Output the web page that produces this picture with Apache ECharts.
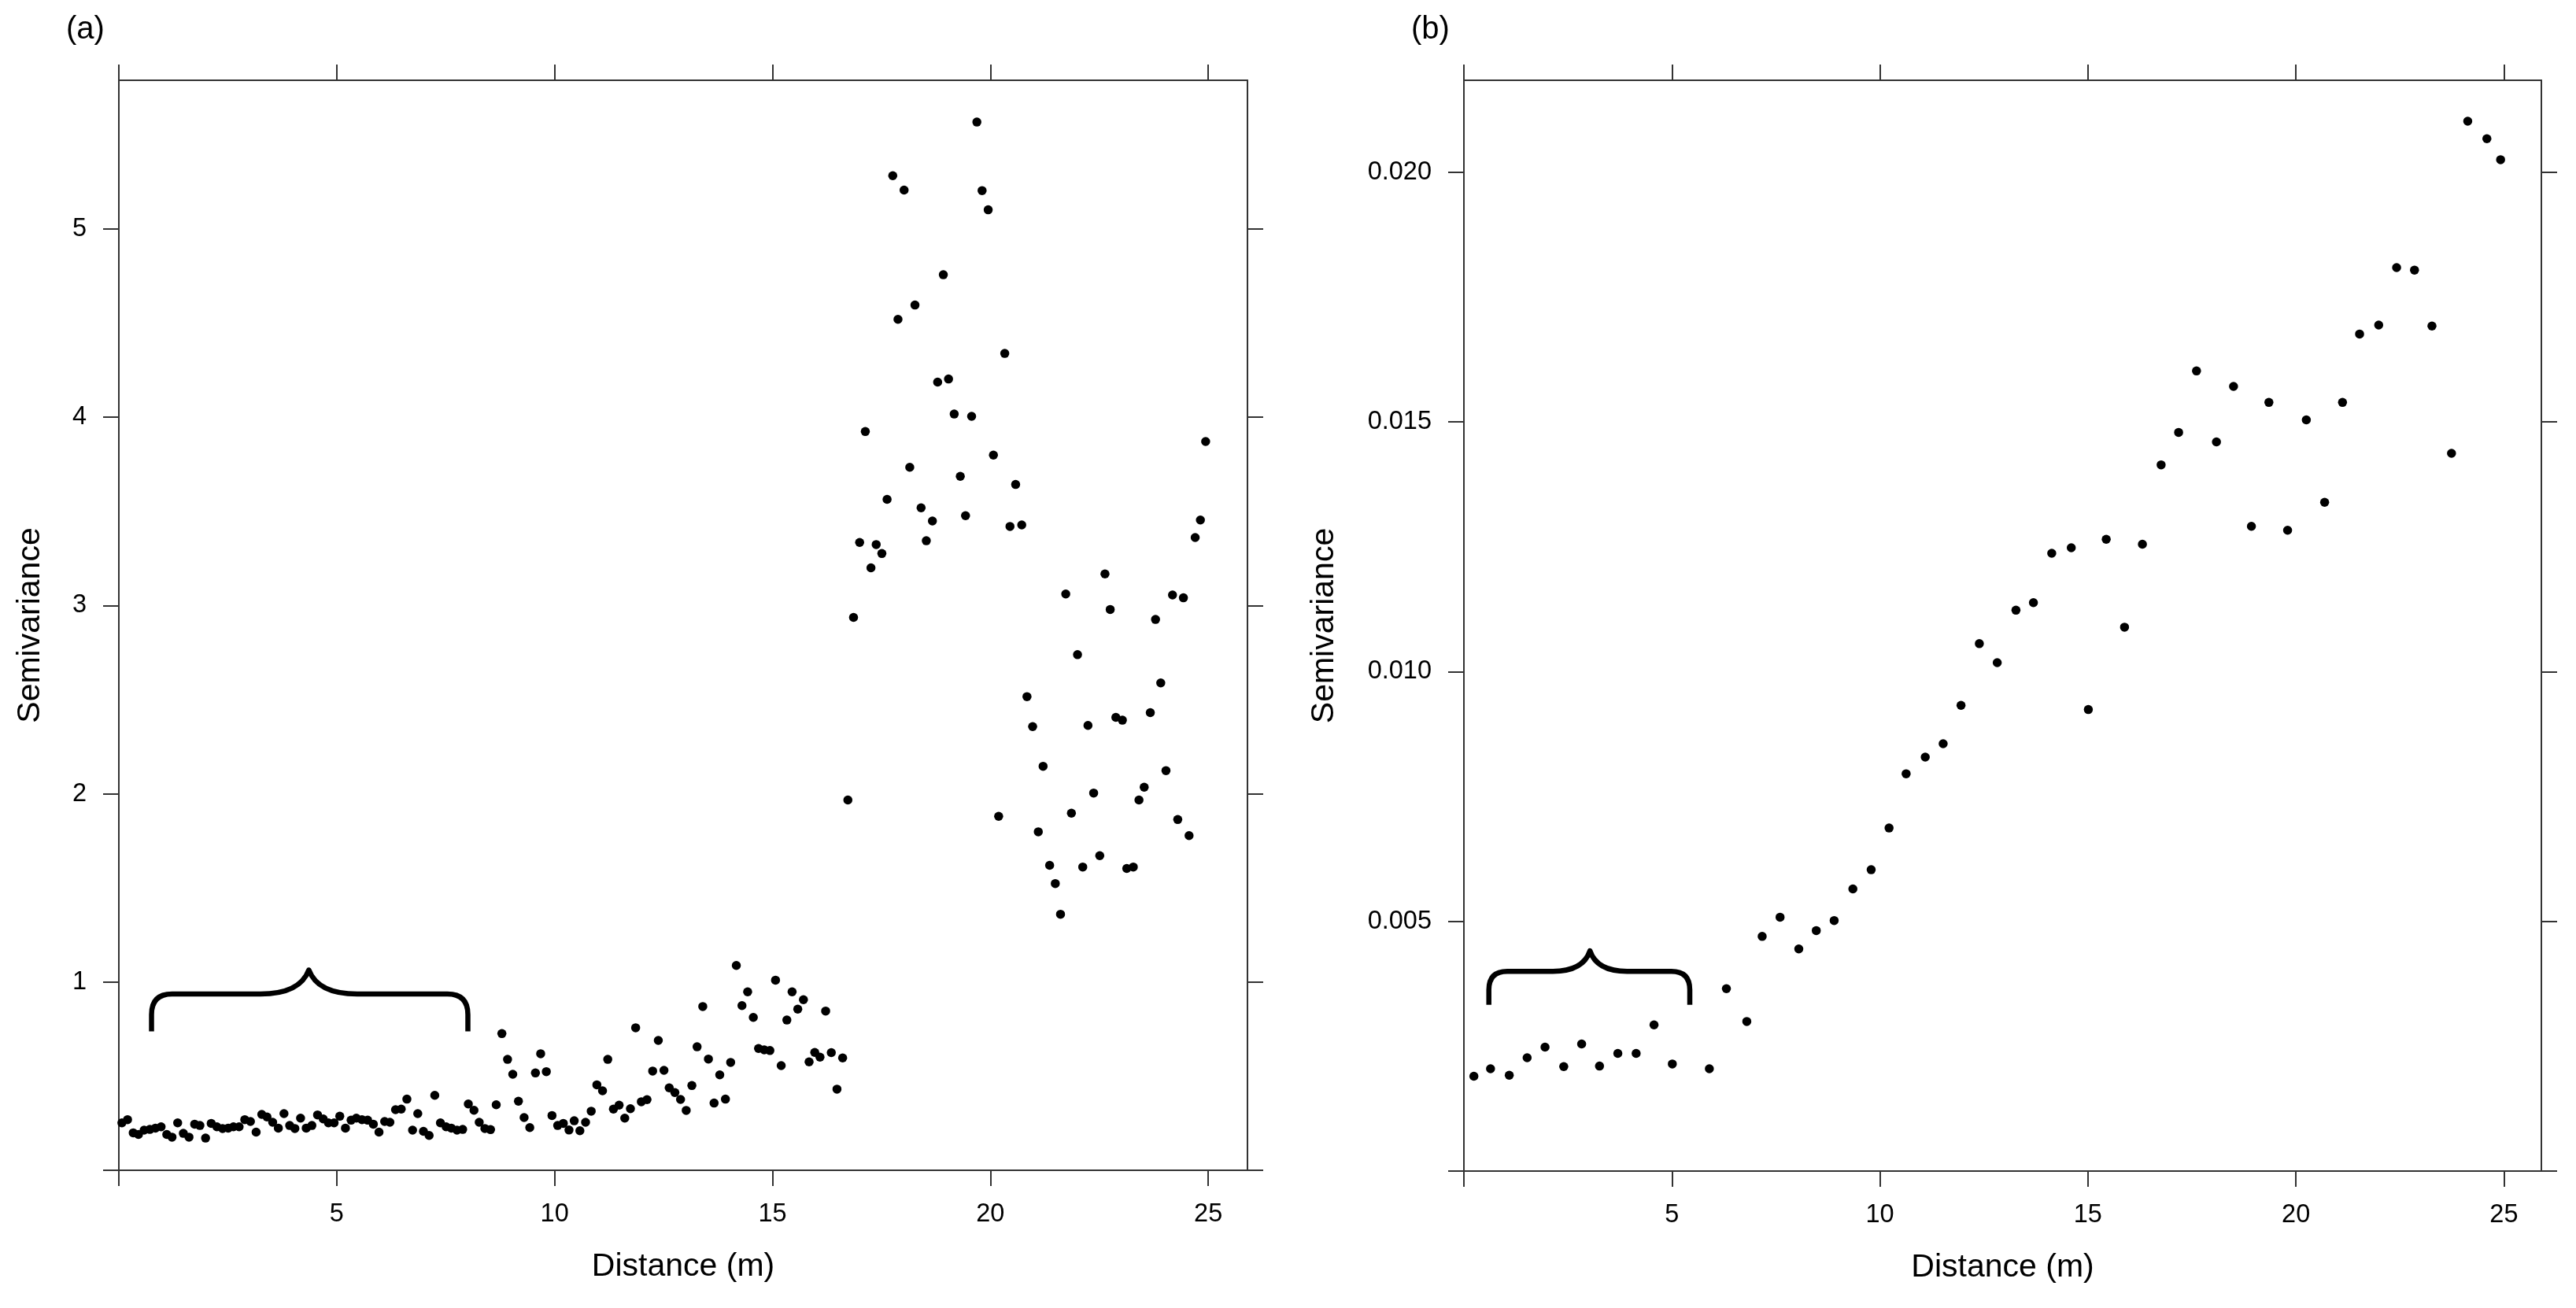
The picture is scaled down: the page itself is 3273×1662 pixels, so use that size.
<!DOCTYPE html>
<html><head><meta charset="utf-8">
<script src="https://cdn.jsdelivr.net/npm/echarts@6/dist/echarts.min.js"></script>
<style>html,body{margin:0;padding:0;background:#fff}#c{width:3273px;height:1662px}</style>
</head><body><div id="c"></div>
<script>
// ---- Panel (a) data ----
const distA = [
0.07,0.20,0.33,0.45,0.58,0.71,0.84,0.97,1.10,1.22,
1.35,1.48,1.61,1.74,1.86,1.99,2.12,2.25,2.38,2.51,
2.63,2.76,2.89,3.02,3.15,3.28,3.40,3.53,3.66,3.79,
3.92,4.04,4.17,4.30,4.43,4.56,4.69,4.81,4.94,5.07,
5.20,5.33,5.45,5.58,5.71,5.84,5.97,6.10,6.22,6.35,
6.48,6.61,6.74,6.86,6.99,7.12,7.25,7.38,7.51,7.63,
7.76,7.89,8.02,8.15,8.27,8.40,8.53,8.66,8.79,8.92,
9.04,9.17,9.30,9.43,9.56,9.68,9.81,9.94,10.07,10.20,
10.33,10.45,10.58,10.71,10.84,10.97,11.10,11.22,11.35,11.48,
11.61,11.74,11.86,11.99,12.12,12.25,12.38,12.51,12.63,12.76,
12.89,13.02,13.15,13.27,13.40,13.53,13.66,13.79,13.92,14.04,
14.17,14.30,14.43,14.56,14.68,14.81,14.94,15.07,15.20,15.33,
15.45,15.58,15.71,15.84,15.97,16.09,16.22,16.35,16.48,16.61,
16.73,16.86,17.00,17.13,17.26,17.38,17.51,17.63,17.76,17.88,
18.02,18.15,18.27,18.41,18.53,18.67,18.79,18.92,19.04,19.17,
19.31,19.43,19.57,19.69,19.81,19.95,20.07,20.19,20.33,20.45,
20.58,20.72,20.84,20.97,21.10,21.21,21.36,21.49,21.61,21.73,
21.86,22.00,22.12,22.24,22.37,22.51,22.63,22.75,22.88,23.03,
23.13,23.28,23.41,23.53,23.67,23.79,23.91,24.03,24.18,24.30,
24.43,24.56,24.70,24.82,24.94
];
const semivarA = [
0.252,0.269,0.199,0.190,0.213,0.217,0.224,0.231,0.190,0.176,
0.252,0.196,0.176,0.245,0.238,0.171,0.249,0.231,0.222,0.224,
0.231,0.231,0.269,0.259,0.203,0.297,0.283,0.255,0.224,0.301,
0.238,0.222,0.277,0.224,0.238,0.294,0.273,0.252,0.252,0.287,
0.224,0.266,0.277,0.269,0.266,0.245,0.203,0.259,0.255,0.322,
0.325,0.378,0.213,0.301,0.207,0.185,0.398,0.252,0.231,0.224,
0.213,0.217,0.352,0.319,0.255,0.222,0.216,0.348,0.726,0.589,
0.510,0.367,0.280,0.227,0.517,0.619,0.524,0.291,0.238,0.249,
0.214,0.263,0.210,0.255,0.314,0.454,0.422,0.589,0.325,0.346,
0.277,0.327,0.757,0.364,0.375,0.527,0.690,0.531,0.438,0.413,
0.376,0.318,0.450,0.656,0.870,0.591,0.357,0.507,0.378,0.573,
1.088,0.875,0.948,0.812,0.647,0.640,0.636,1.010,0.556,0.798,
0.948,0.856,0.906,0.576,0.626,0.601,0.846,0.625,0.431,0.597,
1.967,2.937,3.335,3.924,3.200,3.324,3.276,3.564,5.283,4.520,
5.207,3.734,4.596,3.519,3.344,3.449,4.187,4.757,4.203,4.017,
3.686,3.477,4.005,5.568,5.204,5.102,3.799,1.880,4.339,3.420,
3.643,3.428,2.516,2.357,1.798,2.146,1.620,1.523,1.360,3.061,
1.897,2.739,1.611,2.363,2.004,1.671,3.168,2.979,2.406,2.391,
1.603,1.611,1.967,2.035,2.431,2.926,2.589,2.123,3.056,1.863,
3.041,1.778,3.361,3.454,3.871
];
// ---- Panel (b) data ----
const distB = [
0.24,0.64,1.09,1.52,1.95,2.40,2.83,3.26,3.70,4.14,
4.57,5.01,5.90,6.31,6.80,7.17,7.60,8.05,8.47,8.90,
9.35,9.79,10.22,10.63,11.09,11.52,11.95,12.39,12.82,13.27,
13.69,14.13,14.60,15.01,15.44,15.88,16.31,16.76,17.18,17.61,
18.09,18.50,18.93,19.35,19.80,20.25,20.69,21.12,21.53,21.99,
22.42,22.85,23.27,23.74,24.13,24.59,24.92
];
const semivarB = [
0.001898,0.002049,0.001918,0.002270,0.002481,0.002092,0.002544,0.002102,0.002355,0.002355,
0.002927,0.002144,0.002049,0.003652,0.002995,0.004698,0.005083,0.004448,0.004815,0.005016,
0.005650,0.006034,0.006869,0.007955,0.008289,0.008556,0.009325,0.010560,0.010180,0.011230,
0.011380,0.012370,0.012480,0.009240,0.012650,0.010890,0.012550,0.014140,0.014790,0.016020,
0.014600,0.015710,0.012910,0.015390,0.012830,0.015040,0.013390,0.015390,0.016760,0.016940,
0.018090,0.018040,0.016920,0.014370,0.021020,0.020670,0.020250
];
// ---- ticks / labels ----
const xTicks = [0,5,10,15,20,25];
const xLabels = [5,10,15,20,25];
const yTicksA = [0,1,2,3,4,5];
const yLabelsA = [1,2,3,4,5];
const yTicksB = [0,0.005,0.010,0.015,0.020];
const yLabelsB = [0.005,0.010,0.015,0.020];
const panelLabels = ['(a)','(b)'];
const xTitle = 'Distance (m)';
const yTitle = 'Semivariance';
// braces: x of [left end, curve start, peak, curve end, right end], y of [ends, bar, peak]
const braceAX = [0.75, 3.25, 4.36, 5.47, 8.01];
const braceAY = [0.738, 0.936, 1.064];
const braceBX = [0.60, 2.14, 3.03, 3.92, 5.43];
const braceBY = [0.00333, 0.00400, 0.00441];

const FONT = '"Liberation Sans", Arial, Helvetica, sans-serif';
const LINE = '#333333';
const XMAX = 25.9, YMAXA = 5.79, YMAXB = 0.02184;

function xAxisDef(grid, pos, main) {
  return {
    type:'value', gridIndex:grid, position:pos, min:0, max:XMAX, interval:5,
    axisLine:{show:true, onZero:false, lineStyle:{color:LINE, width:2}},
    axisTick:{show:true, length:20, inside:false, customValues:xTicks, lineStyle:{color:LINE, width:2}},
    axisLabel:{show:main, customValues:xLabels, fontSize:32.5, color:'#000', fontFamily:FONT, margin:40,
      formatter: v => (v === 0 || v % 5 !== 0) ? '' : String(v)},
    splitLine:{show:false},
    name: main ? xTitle : '', nameLocation:'middle', nameGap:102,
    nameTextStyle:{fontSize:41, color:'#000', fontFamily:FONT}
  };
}
function yAxisDef(grid, pos, main, ymax, ticks, labels, fmt, gap) {
  return {
    type:'value', gridIndex:grid, position:pos, min:0, max:ymax,
    axisLine:{show:true, onZero:false, lineStyle:{color:LINE, width:2}},
    axisTick:{show:true, length:20, inside:false, customValues:ticks, lineStyle:{color:LINE, width:2}},
    axisLabel:{show:main, customValues:labels, fontSize:32.5, color:'#000', fontFamily:FONT, margin:41, formatter:fmt},
    splitLine:{show:false},
    name: main ? yTitle : '', nameLocation:'middle', nameGap:gap,
    nameTextStyle:{fontSize:41, color:'#000', fontFamily:FONT}
  };
}

function braceRender(params, api) {
  const p0 = api.coord([api.value(0), api.value(5)]);
  const p1 = api.coord([api.value(1), api.value(6)]);
  const p2 = api.coord([api.value(2), api.value(7)]);
  const p3 = api.coord([api.value(3), api.value(6)]);
  const p4 = api.coord([api.value(4), api.value(5)]);
  const L = p0[0], yE = p0[1], yB = p1[1], C = p2[0], yP = p2[1], R = p4[0];
  const c1 = p1[0], c2 = p3[0];
  const r = (yE - yB) * 0.55;
  const h = yB - yP;
  const d = 'M' + L + ',' + yE + ' L' + L + ',' + (yB + r) +
    ' Q' + L + ',' + yB + ' ' + (L + r) + ',' + yB +
    ' L' + c1 + ',' + yB +
    ' C' + (c1 + (C - c1) * 0.55) + ',' + yB + ' ' + (C - (C - c1) * 0.12) + ',' + (yB - h * 0.35) + ' ' + C + ',' + yP +
    ' C' + (C + (c2 - C) * 0.12) + ',' + (yB - h * 0.35) + ' ' + (c2 - (c2 - C) * 0.55) + ',' + yB + ' ' + c2 + ',' + yB +
    ' L' + (R - r) + ',' + yB +
    ' Q' + R + ',' + yB + ' ' + R + ',' + (yB + r) +
    ' L' + R + ',' + yE;
  return {type:'path', shape:{pathData:d}, style:{fill:null, stroke:'#000', lineWidth:6.5, lineJoin:'round'}};
}

const chart = echarts.init(document.getElementById('c'), null, {renderer:'canvas'});
chart.setOption({
  animation:false,
  backgroundColor:'#fff',
  grid:[
    {left:151, top:102, width:1434, height:1385},
    {left:1860, top:102, width:1369, height:1386}
  ],
  xAxis:[
    xAxisDef(0,'bottom',true), xAxisDef(0,'top',false),
    xAxisDef(1,'bottom',true), xAxisDef(1,'top',false)
  ],
  yAxis:[
    yAxisDef(0,'left',true,YMAXA,yTicksA,yLabelsA, v => (v === 0 ? '' : String(v)), 92),
    yAxisDef(0,'right',false,YMAXA,yTicksA,yLabelsA, v => '', 0),
    yAxisDef(1,'left',true,YMAXB,yTicksB,yLabelsB, v => (v === 0 ? '' : v.toFixed(3)), 157),
    yAxisDef(1,'right',false,YMAXB,yTicksB,yLabelsB, v => '', 0)
  ],
  graphic:[
    {type:'text', left:84, top:18, style:{text:panelLabels[0], font:'40px ' + FONT, fill:'#000'}},
    {type:'text', left:1793, top:18, style:{text:panelLabels[1], font:'40px ' + FONT, fill:'#000'}}
  ],
  series:[
    {type:'scatter', xAxisIndex:0, yAxisIndex:0, symbol:'circle', symbolSize:11.5,
     itemStyle:{color:'#000', opacity:1}, data: distA.map((x,i) => [x, semivarA[i]])},
    {type:'scatter', xAxisIndex:2, yAxisIndex:2, symbol:'circle', symbolSize:11.5,
     itemStyle:{color:'#000', opacity:1}, data: distB.map((x,i) => [x, semivarB[i]])},
    {type:'custom', xAxisIndex:0, yAxisIndex:0, renderItem:braceRender, silent:true, clip:false,
     data:[braceAX.concat(braceAY)]},
    {type:'custom', xAxisIndex:2, yAxisIndex:2, renderItem:braceRender, silent:true, clip:false,
     data:[braceBX.concat(braceBY)]}
  ]
});
</script>
</body></html>
